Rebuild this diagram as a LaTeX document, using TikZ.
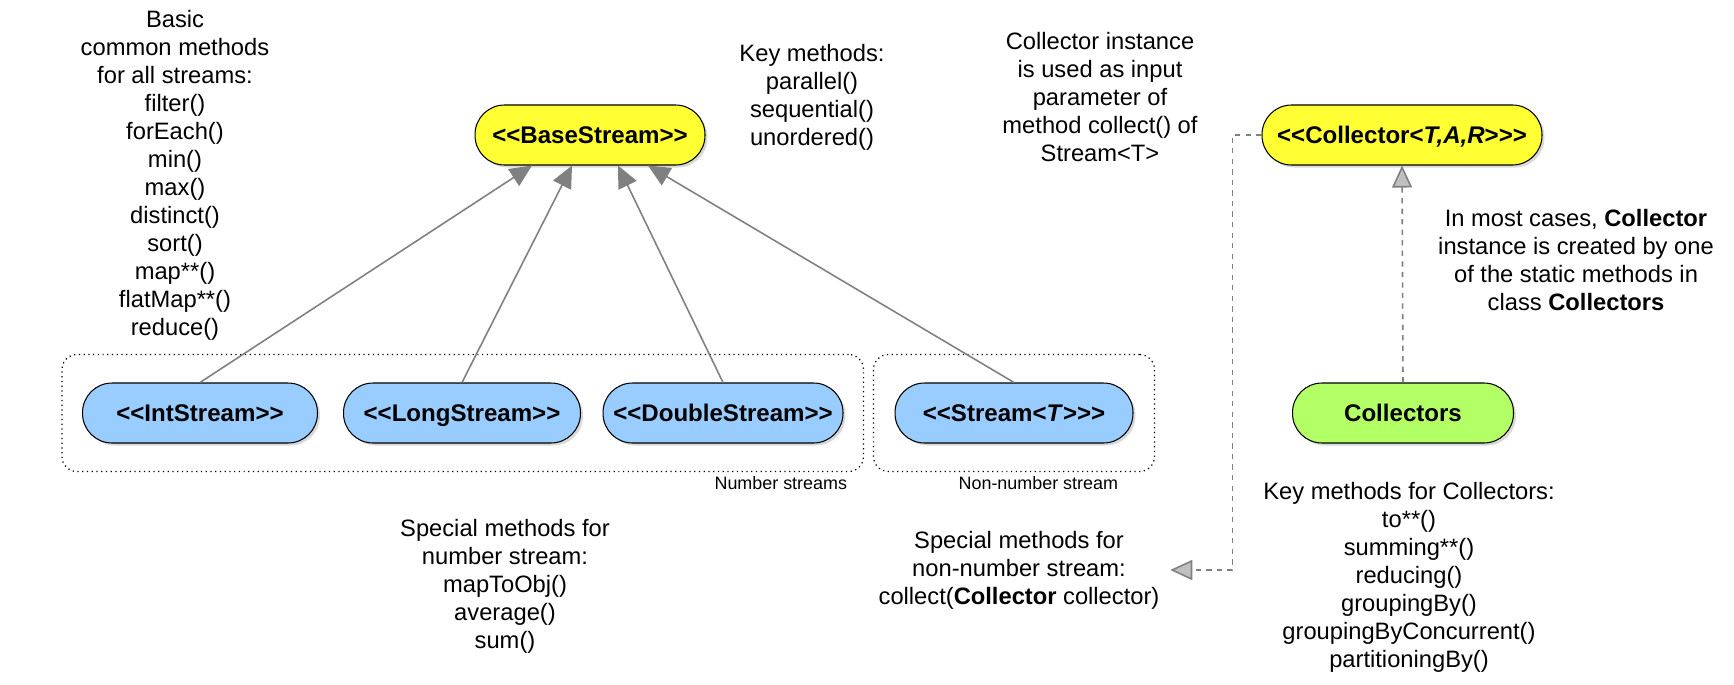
\documentclass[tikz,border=0pt]{standalone}
\usepackage{fontspec}
\setmainfont{Liberation Sans}[Ligatures=TeXOff]
\usetikzlibrary{arrows.meta,positioning,fit,shadows,calc}
\definecolor{basefill}{RGB}{255,255,51}
\definecolor{numfill}{RGB}{153,204,255}
\definecolor{collfill}{RGB}{178,255,102}
\definecolor{linkgray}{RGB}{128,128,128}
\definecolor{tipgray}{RGB}{192,192,192}

\begin{document}
\begin{tikzpicture}[
  x=0.02cm, y=-0.02cm,
  cls/.style={draw=black, line width=0.6pt, rounded corners=0.59cm,
              minimum height=1.2cm, inner sep=0pt, text height=9.8pt, text depth=0pt,
              font=\fontsize{13.7}{16}\selectfont\bfseries,
              drop shadow={shadow xshift=0.05cm, shadow yshift=-0.05cm, opacity=0.3}},
  basecls/.style={cls, fill=basefill},
  numcls/.style={cls, fill=numfill},
  helpcls/.style={cls, fill=collfill},
  note/.style={align=center, font=\fontsize{13.5}{15.93}\selectfont, inner sep=2pt},
  small/.style={font=\fontsize{10.2}{12}\selectfont, inner sep=1pt},
  grp/.style={draw, dotted, line width=0.7pt, rounded corners=0.3cm,
              inner xsep=0.4cm, inner ysep=0.56cm},
  inh/.style={draw=linkgray, line width=0.9pt,
              -{Triangle[length=0.44cm, width=0.4cm, fill=linkgray]}},
  dep/.style={draw=linkgray, dashed, line width=0.9pt,
              -{Triangle[length=0.44cm, width=0.4cm, fill=tipgray]}}
]
\useasboundingbox (0,0) rectangle (1734,684);

% ---- classes
\node[basecls, minimum width=4.6cm] (base) at (590,135) {<<BaseStream>>};
\node[basecls, minimum width=5.6cm] (coll) at (1402,135)
  {<<Collector<\textit{T,A,R}>>>};
\node[numcls, minimum width=4.7cm] (int) at (200,413) {<<IntStream>>};
\node[numcls, minimum width=4.74cm] (long) at (462,413) {<<LongStream>>};
\node[numcls, minimum width=4.8cm] (dbl) at (723,413) {<<DoubleStream>>};
\node[numcls, minimum width=4.76cm] (strm) at (1014,413) {<<Stream<\textit{T}>>>};
\node[helpcls, minimum width=4.42cm] (colls) at (1403,413) {Collectors};

% ---- groups
\node[grp, fit=(int)(dbl)] (numgrp) {};
\node[grp, fit=(strm), inner xsep=0.42cm] (objgrp) {};
\node[small, anchor=north east] (numlbl) at ($(numgrp.south east)+(-15,2)$)
  {Number streams};
\node[small, anchor=north east] (objlbl) at ($(objgrp.south east)+(-35,2)$)
  {Non-number stream};

% ---- notes
\node[note] (basic) at (175,175)
  {Basic\\ common methods\\ for all streams:\\ filter()\\ forEach()\\ min()\\
   max()\\ distinct()\\ sort()\\ map**()\\ flatMap**()\\ reduce()};
\node[note] (keym) at (812,97)
  {Key methods:\\ parallel()\\ sequential()\\ unordered()};
\node[note] (collinst) at (1100,97)
  {Collector instance\\ is used as input\\ parameter of\\ method collect() of\\
   Stream<T>};
\node[note] (mostcases) at (1576,260)
  {In most cases, \textbf{Collector}\\ instance is created by one\\
   of the static methods in\\ class \textbf{Collectors}};
\node[note] (keycoll) at (1409,577)
  {Key methods for Collectors:\\ to**()\\ summing**()\\ reducing()\\
   groupingBy()\\ groupingByConcurrent()\\ partitioningBy()};
\node[note] (specnum) at (505,586)
  {Special methods for\\ number stream:\\ mapToObj()\\ average()\\ sum()};
\node[note, inner sep=6pt] (specnon) at (1019,570)
  {Special methods for\\ non-number stream:\\
   collect(\textbf{Collector} collector)};

% ---- edges
\draw[inh] (int.north) -- ($(base.south)+(-58,0)$);
\draw[inh] (long.north) -- ($(base.south)+(-18,0)$);
\draw[inh] (dbl.north) -- ($(base.south)+(28,0)$);
\draw[inh] (strm.north) -- ($(base.south)+(58,0)$);
\draw[dep] (colls.north) -- (coll.south);
\draw[dep] (coll.west) -- ++(-29,0) |- (specnon.east);
\end{tikzpicture}
\end{document}
